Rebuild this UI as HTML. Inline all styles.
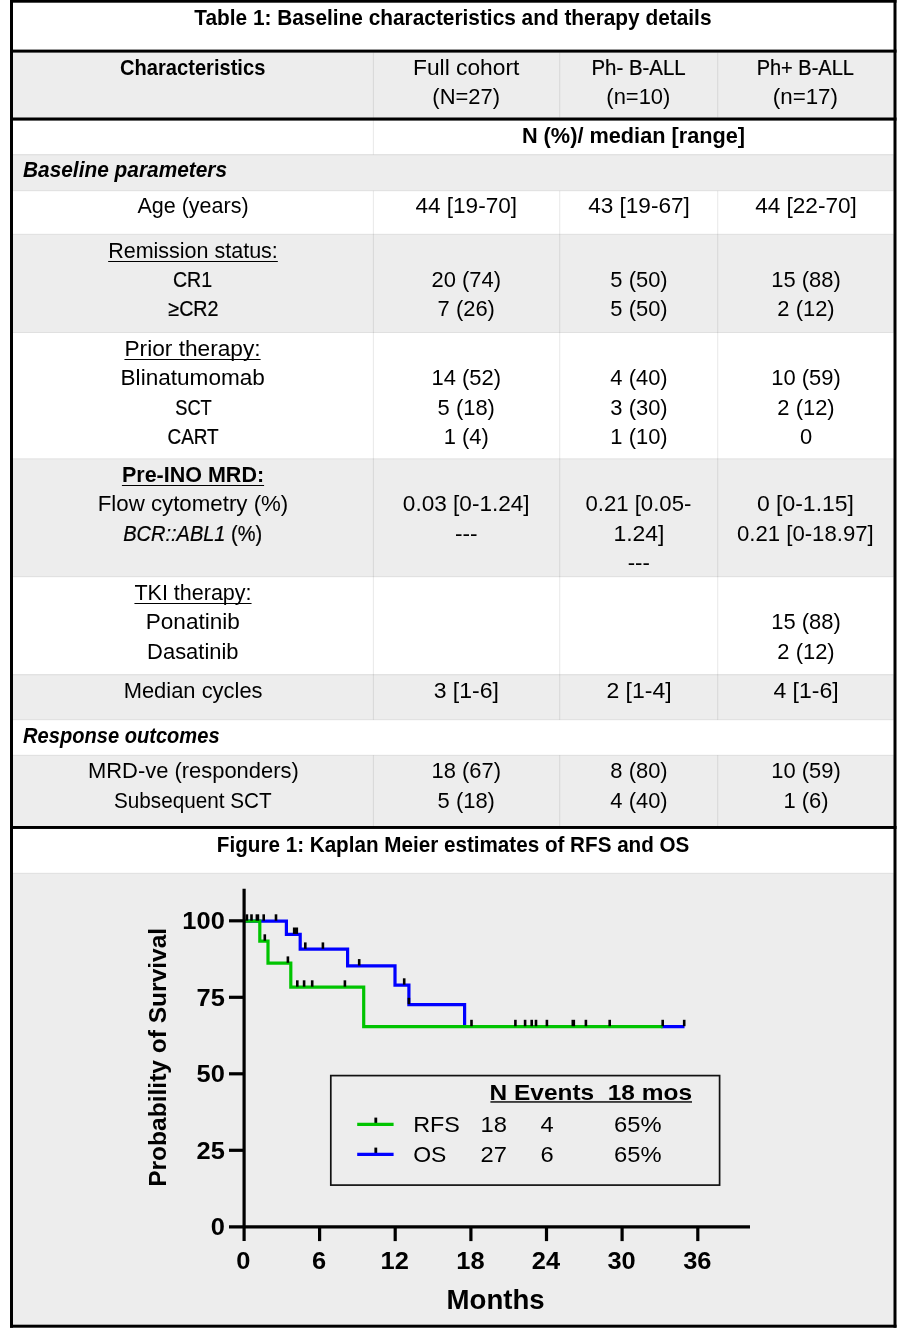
<!DOCTYPE html>
<html lang="en">
<head>
<meta charset="utf-8">
<title>Table 1 and Figure 1</title>
<style>
html,body{margin:0;padding:0;background:#fff;}
body{width:907px;height:1343px;position:relative;overflow:hidden;font-family:"Liberation Sans",Arial,sans-serif;color:#000;}
#bg{position:absolute;left:0;top:0;width:907px;height:1343px;}
.c{position:absolute;text-align:center;white-space:nowrap;font-size:21.5px;line-height:29.4px;}
.c1{left:13px;width:360px;}
.c2{left:373px;width:186.5px;}
.c3{left:559.5px;width:158px;}
.c4{left:717.5px;width:176px;}
.full{left:13px;width:880.5px;}
.c234{left:373px;width:520.5px;}
.b{font-weight:bold;}
.s{display:inline-block;transform-origin:50% 50%;}
.sl{transform-origin:0 50%;}
.w{-webkit-text-stroke:0.24px #000;}
.n{transform:scaleX(1.02);}
.n2{transform:scaleX(1.05);}
.n3{transform:scaleX(1.07);}
.i{font-style:italic;}
.u{text-decoration:underline;text-decoration-thickness:1.4px;text-underline-offset:2.6px;text-decoration-skip-ink:none;}
.sec{position:absolute;left:23px;font-size:21.5px;line-height:29.4px;font-weight:bold;font-style:italic;white-space:nowrap;}
#chart{position:absolute;left:0;top:0;width:907px;height:1343px;}
#chart text{font-family:"Liberation Sans",Arial,sans-serif;fill:#000;}
</style>
</head>
<body>
<svg id="bg" width="907" height="1343" viewBox="0 0 907 1343">
<!-- row backgrounds -->
<g fill="#ededed">
<rect x="11.5" y="51" width="883.5" height="68"/>
<rect x="11.5" y="154.6" width="883.5" height="36.1"/>
<rect x="11.5" y="234.3" width="883.5" height="98.2"/>
<rect x="11.5" y="458.8" width="883.5" height="118"/>
<rect x="11.5" y="674.6" width="883.5" height="45.1"/>
<rect x="11.5" y="755.2" width="883.5" height="72"/>
<rect x="11.5" y="873.3" width="883.5" height="452.5"/>
</g>
<!-- thin grid lines -->
<g stroke="#000" stroke-opacity="0.085" stroke-width="1.1" fill="none">
<path d="M373.4 52.6V154.6M373.4 190.7V719.7M373.4 755.2V826"/>
<path d="M559.7 52.6V117.5M559.7 190.7V719.7M559.7 755.2V826"/>
<path d="M717.7 52.6V117.5M717.7 190.7V719.7M717.7 755.2V826"/>
<path d="M13 154.6H893.5M13 190.7H893.5M13 234.3H893.5M13 332.5H893.5M13 458.8H893.5M13 576.8H893.5M13 674.6H893.5M13 719.7H893.5M13 755.2H893.5M13 873.3H893.5"/>
</g>
<!-- thick borders -->
<g fill="#000">
<rect x="10" y="0" width="886.5" height="2.7"/>
<rect x="10" y="1324.7" width="886.5" height="3"/>
<rect x="10" y="0" width="3" height="1327.7"/>
<rect x="893.5" y="0" width="3" height="1327.7"/>
<rect x="10" y="49.6" width="886.5" height="3"/>
<rect x="10" y="117.5" width="886.5" height="3.1"/>
<rect x="10" y="826" width="886.5" height="2.95"/>
</g>
</svg>

<!-- Table title -->
<div class="c full b" style="top:3.8px"><span class="s" style="transform:scaleX(0.969)">Table 1: Baseline characteristics and therapy details</span></div>

<!-- Header row -->
<div class="c c1 b" style="top:53.8px"><span class="s" style="transform:scaleX(0.935)">Characteristics</span></div>
<div class="c c2" style="top:53.8px"><span class="s" style="transform:scaleX(1.06)">Full cohort</span><br><span class="s" style="transform:scaleX(1.02)">(N=27)</span></div>
<div class="c c3" style="top:53.8px"><span class="s w" style="transform:scaleX(0.95)">Ph- B-ALL</span><br><span class="s" style="transform:scaleX(1.02)">(n=10)</span></div>
<div class="c c4" style="top:53.8px"><span class="s w" style="transform:scaleX(0.93)">Ph+ B-ALL</span><br><span class="s" style="transform:scaleX(1.04)">(n=17)</span></div>

<div class="c c234 b" style="top:121.8px"><span class="s" style="transform:scaleX(1.01)">N (%)/ median [range]</span></div>

<div class="sec" style="top:155.8px"><span class="s sl" style="transform:scaleX(0.97)">Baseline parameters</span></div>

<!-- Age -->
<div class="c c1" style="top:191.9px">Age (years)</div>
<div class="c c2 n2" style="top:191.9px">44 [19-70]</div>
<div class="c c3 n2" style="top:191.9px">43 [19-67]</div>
<div class="c c4 n2" style="top:191.9px">44 [22-70]</div>

<!-- Remission status -->
<div class="c c1" style="top:236.5px"><span class="u">Remission status:</span><br><span class="s w" style="transform:scaleX(0.91)">CR1</span><br><span class="s w" style="transform:scaleX(0.915)">≥CR2</span></div>
<div class="c c2 n" style="top:236.5px"><br>20 (74)<br>7 (26)</div>
<div class="c c3 n" style="top:236.5px"><br>5 (50)<br>5 (50)</div>
<div class="c c4 n" style="top:236.5px"><br>15 (88)<br>2 (12)</div>

<!-- Prior therapy -->
<div class="c c1" style="top:334.7px"><span class="s u" style="transform:scaleX(1.055)">Prior therapy:</span><br><span class="s" style="transform:scaleX(1.05)">Blinatumomab</span><br><span class="s w" style="transform:scaleX(0.85)">SCT</span><br><span class="s w" style="transform:scaleX(0.88)">CART</span></div>
<div class="c c2 n" style="top:334.7px"><br>14 (52)<br>5 (18)<br>1 (4)</div>
<div class="c c3 n" style="top:334.7px"><br>4 (40)<br>3 (30)<br>1 (10)</div>
<div class="c c4 n" style="top:334.7px"><br>10 (59)<br>2 (12)<br>0</div>

<!-- Pre-INO MRD -->
<div class="c c1" style="top:461.0px"><span class="u b">Pre-INO MRD:</span><br><span class="s" style="transform:scaleX(1.036)">Flow cytometry (%)</span><br><span class="s w" style="transform:scaleX(0.93)"><i>BCR::ABL1</i> (%)</span></div>
<div class="c c2 n2" style="top:461.0px"><br>0.03 [0-1.24]<br>---</div>
<div class="c c3" style="top:461.0px"><br><span class="s" style="transform:scaleX(1.03)">0.21 [0.05-</span><br><span class="s" style="transform:scaleX(1.066)">1.24]</span><br><span class="s" style="transform:scaleX(1.03)">---</span></div>
<div class="c c4" style="top:461.0px"><br><span class="s" style="transform:scaleX(1.068)">0 [0-1.15]</span><br><span class="s" style="transform:scaleX(1.03)">0.21 [0-18.97]</span></div>

<!-- TKI therapy -->
<div class="c c1" style="top:579.0px"><span class="u">TKI therapy:</span><br><span class="s" style="transform:scaleX(1.05)">Ponatinib</span><br><span class="s" style="transform:scaleX(1.02)">Dasatinib</span></div>
<div class="c c4 n" style="top:579.0px"><br>15 (88)<br>2 (12)</div>

<!-- Median cycles -->
<div class="c c1" style="top:676.8px"><span class="s" style="transform:scaleX(1.02)">Median cycles</span></div>
<div class="c c2 n3" style="top:676.8px">3 [1-6]</div>
<div class="c c3 n3" style="top:676.8px">2 [1-4]</div>
<div class="c c4 n3" style="top:676.8px">4 [1-6]</div>

<div class="sec" style="top:721.9px"><span class="s sl" style="transform:scaleX(0.935)">Response outcomes</span></div>

<!-- MRD-ve -->
<div class="c c1" style="top:757.4px"><span class="s" style="transform:scaleX(1.02)">MRD-ve (responders)</span><br><span class="s" style="transform:scaleX(0.963)">Subsequent SCT</span></div>
<div class="c c2 n" style="top:757.4px">18 (67)<br>5 (18)</div>
<div class="c c3 n" style="top:757.4px">8 (80)<br>4 (40)</div>
<div class="c c4 n" style="top:757.4px">10 (59)<br>1 (6)</div>

<!-- Figure title -->
<div class="c full b" style="top:830.6px"><span class="s" style="transform:scaleX(0.96)">Figure 1: Kaplan Meier estimates of RFS and OS</span></div>

<!-- CHART -->
<svg id="chart" width="907" height="1343" viewBox="0 0 907 1343">
<path d="M244 921.1H286.4V934.3H300.2V949.2H347.6V965.9H395V985.1H408.9V1004.6H464.6V1026.6M661 1026.6H684.5" fill="none" stroke="#0000ff" stroke-width="3.2" stroke-linejoin="miter"/>
<path d="M244 921.1H259.8V941.1H268V963.2H290.8V987.1H363.7V1026.6H662.7" fill="none" stroke="#00c400" stroke-width="3.2" stroke-linejoin="miter"/>
<g fill="#000">
<rect x="245.6" y="914.3" width="2.6" height="6.4"/>
<rect x="250.2" y="914.3" width="2.6" height="6.4"/>
<rect x="255.6" y="914.3" width="3.6" height="6.4"/>
<rect x="262.4" y="914.3" width="2.6" height="6.4"/>
<rect x="274.7" y="914.3" width="2.6" height="6.4"/>
<rect x="263.5" y="934.3" width="2.6" height="6.4"/>
<rect x="292.9" y="927.5" width="5.2" height="6.4"/>
<rect x="304.0" y="942.4" width="2.6" height="6.4"/>
<rect x="321.6" y="942.4" width="2.6" height="6.4"/>
<rect x="286.6" y="956.4" width="2.6" height="6.4"/>
<rect x="296.0" y="980.3" width="2.6" height="6.4"/>
<rect x="302.8" y="980.3" width="2.6" height="6.4"/>
<rect x="310.9" y="980.3" width="2.6" height="6.4"/>
<rect x="343.6" y="980.3" width="2.6" height="6.4"/>
<rect x="357.9" y="959.1" width="2.6" height="6.4"/>
<rect x="402.9" y="978.3" width="2.6" height="6.4"/>
<rect x="407.6" y="997.8" width="2.6" height="6.4"/>
<rect x="470.2" y="1019.8" width="2.6" height="6.4"/>
<rect x="514.1" y="1019.8" width="2.6" height="6.4"/>
<rect x="523.8" y="1019.8" width="2.6" height="6.4"/>
<rect x="530.4" y="1019.8" width="2.6" height="6.4"/>
<rect x="534.7" y="1019.8" width="2.6" height="6.4"/>
<rect x="545.6" y="1019.8" width="2.6" height="6.4"/>
<rect x="571.5" y="1019.8" width="3.6" height="6.4"/>
<rect x="584.6" y="1019.8" width="2.6" height="6.4"/>
<rect x="608.4" y="1019.8" width="2.6" height="6.4"/>
<rect x="661.4" y="1019.8" width="2.6" height="6.4"/>
<rect x="682.9" y="1019.8" width="2.6" height="6.4"/>
</g>
<g stroke="#000" stroke-width="3.2" fill="none">
<path d="M244.1 888.8V1241.1"/>
<path d="M229 1226.8H750"/>
<path d="M229 920.8H244"/>
<path d="M229 997.3H244"/>
<path d="M229 1073.8H244"/>
<path d="M229 1150.3H244"/>
<path d="M319.6 1226.8V1241.1"/>
<path d="M395.2 1226.8V1241.1"/>
<path d="M470.9 1226.8V1241.1"/>
<path d="M546.5 1226.8V1241.1"/>
<path d="M622.1 1226.8V1241.1"/>
<path d="M697.8 1226.8V1241.1"/>
</g>
<g font-weight="bold" font-size="24" text-anchor="end">
<text transform="translate(224.8 929.4) scale(1.06 1)">100</text>
<text transform="translate(224.8 1005.9) scale(1.06 1)">75</text>
<text transform="translate(224.8 1082.4) scale(1.06 1)">50</text>
<text transform="translate(224.8 1158.9) scale(1.06 1)">25</text>
<text transform="translate(224.8 1235.4) scale(1.06 1)">0</text>
</g>
<g font-weight="bold" font-size="24" text-anchor="middle">
<text transform="translate(243.4 1268.8) scale(1.06 1)">0</text>
<text transform="translate(319.1 1268.8) scale(1.06 1)">6</text>
<text transform="translate(394.7 1268.8) scale(1.06 1)">12</text>
<text transform="translate(470.4 1268.8) scale(1.06 1)">18</text>
<text transform="translate(546.0 1268.8) scale(1.06 1)">24</text>
<text transform="translate(621.6 1268.8) scale(1.06 1)">30</text>
<text transform="translate(697.3 1268.8) scale(1.06 1)">36</text>
</g>
<text transform="translate(495.6 1308.7) scale(1.03 1)" font-weight="bold" font-size="26.8" text-anchor="middle">Months</text>
<text transform="translate(166.4 1057.3) rotate(-90)" font-weight="bold" font-size="24" text-anchor="middle" textLength="259" lengthAdjust="spacingAndGlyphs">Probability of Survival</text>
<rect x="330.8" y="1075.6" width="388.8" height="109.5" fill="none" stroke="#111" stroke-width="1.7"/>
<text x="489.6" y="1100" font-weight="bold" font-size="21.2" textLength="202.4" lengthAdjust="spacingAndGlyphs" xml:space="preserve" style="white-space:pre">N Events  18 mos</text>
<rect x="490.4" y="1101.2" width="201.6" height="1.5" fill="#111"/>
<rect x="374.4" y="1117.6" width="2.8" height="6.8" fill="#000"/>
<path d="M357.2 1124.4H393.6" stroke="#00c400" stroke-width="3.3" fill="none"/>
<text x="413.2" y="1132.0" font-size="21.2" textLength="46.7" lengthAdjust="spacingAndGlyphs">RFS</text>
<text x="480.5" y="1132.0" font-size="21.2" textLength="26.4" lengthAdjust="spacingAndGlyphs">18</text>
<text x="540.6" y="1132.0" font-size="21.2" textLength="13.2" lengthAdjust="spacingAndGlyphs">4</text>
<text x="614" y="1132.0" font-size="21.2" textLength="47.5" lengthAdjust="spacingAndGlyphs">65%</text>
<rect x="374.4" y="1147.6" width="2.8" height="6.8" fill="#000"/>
<path d="M357.2 1154.4H393.6" stroke="#0000ff" stroke-width="3.3" fill="none"/>
<text x="413.2" y="1162.0" font-size="21.2" textLength="33.2" lengthAdjust="spacingAndGlyphs">OS</text>
<text x="480.5" y="1162.0" font-size="21.2" textLength="26.4" lengthAdjust="spacingAndGlyphs">27</text>
<text x="540.6" y="1162.0" font-size="21.2" textLength="13.2" lengthAdjust="spacingAndGlyphs">6</text>
<text x="614" y="1162.0" font-size="21.2" textLength="47.5" lengthAdjust="spacingAndGlyphs">65%</text>
</svg>
</body>
</html>
